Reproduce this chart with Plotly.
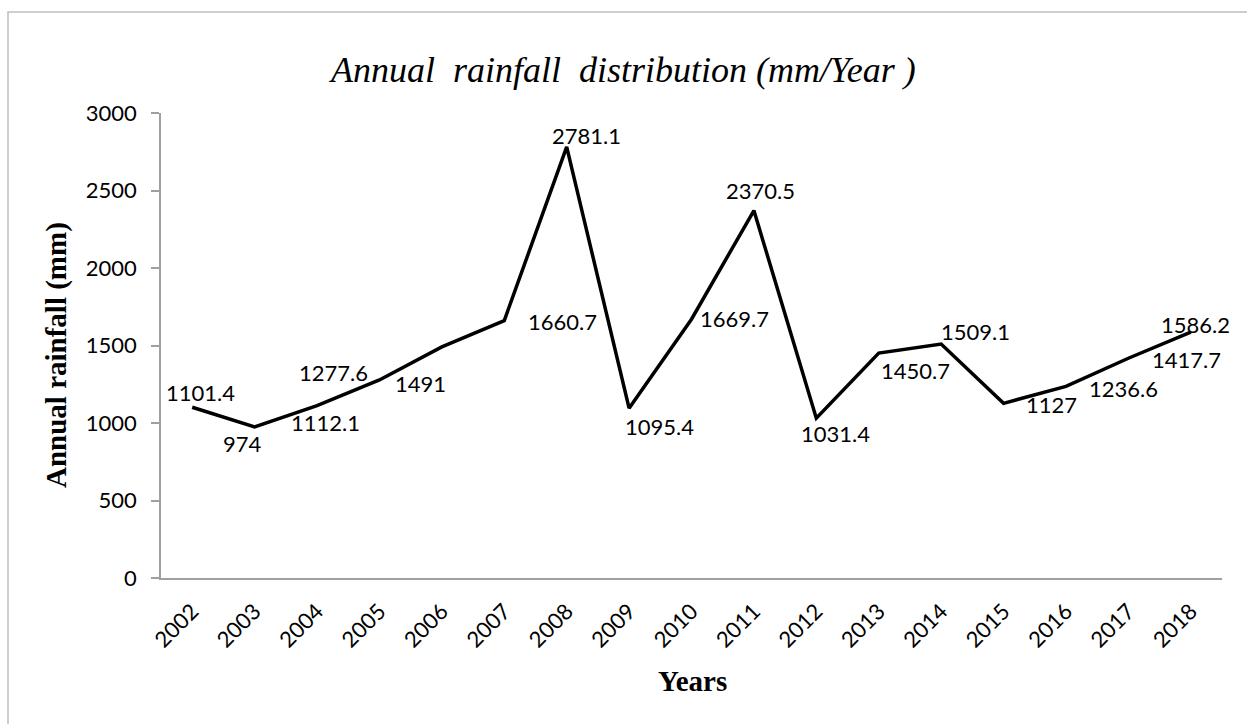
import plotly.graph_objects as go

years = ["2002", "2003", "2004", "2005", "2006", "2007", "2008", "2009", "2010",
         "2011", "2012", "2013", "2014", "2015", "2016", "2017", "2018"]
rainfall = [1101.4, 974, 1112.1, 1277.6, 1491, 1660.7, 2781.1, 1095.4, 1669.7,
            2370.5, 1031.4, 1450.7, 1509.1, 1127, 1236.6, 1417.7, 1586.2]
label_text = ["1101.4", "974", "1112.1", "1277.6", "1491", "1660.7", "2781.1", "1095.4",
              "1669.7", "2370.5", "1031.4", "1450.7", "1509.1", "1127", "1236.6",
              "1417.7", "1586.2"]
# label offsets in pixels (dx right, dy down) relative to the point
label_dx = [8, -12, 8, -46, -21, 58, 20, 30, 43, 7, 19, 37, 34, 48, 58, 58, 5]
label_dy = [-15, 16, 17, -7, 37, 1, -11, 18, -1, -20, 15, 17, -13, 1, 2, 1, -8]

W, H = 1247, 724
L, R, T, B = 161, 25, 113, 146
pw, ph = W - L - R, H - T - B

def px(x):
    return (x - L) / pw

def py(y):
    return (H - B - y) / ph

tick_font = dict(family="Lato, 'Open Sans', sans-serif", size=22, color="#000000")

fig = go.Figure()
fig.add_trace(go.Scatter(
    x=years, y=rainfall, mode="lines",
    line=dict(color="#000000", width=3.5),
    hoverinfo="skip", showlegend=False,
))

annotations = []
for i, (v, t, dx, dy) in enumerate(zip(rainfall, label_text, label_dx, label_dy)):
    annotations.append(dict(
        x=i, y=v, xref="x", yref="y", text=t, showarrow=False,
        xanchor="center", yanchor="middle", xshift=dx, yshift=-dy,
        font=tick_font,
    ))

nb = "\u00a0"
annotations.append(dict(
    x=px(622), y=py(70), xref="paper", yref="paper",
    text=f"Annual{nb}{nb}rainfall{nb}{nb}distribution{nb}(mm/Year{nb})",
    showarrow=False, xanchor="center", yanchor="middle",
    font=dict(family="'Liberation Serif', 'Times New Roman', serif", size=36,
              color="#000000", style="italic"),
))
annotations.append(dict(
    x=px(56), y=py(355), xref="paper", yref="paper",
    text="<b>Annual rainfall (mm)</b>", textangle=-90,
    showarrow=False, xanchor="center", yanchor="middle",
    font=dict(family="'Liberation Serif', 'Times New Roman', serif", size=29, color="#000000"),
))
annotations.append(dict(
    x=px(692), y=py(681), xref="paper", yref="paper",
    text="<b>Years</b>",
    showarrow=False, xanchor="center", yanchor="middle",
    font=dict(family="'Liberation Serif', 'Times New Roman', serif", size=29, color="#000000"),
))

fig.update_layout(
    width=W, height=H,
    margin=dict(l=L, r=R, t=T, b=B, pad=0),
    paper_bgcolor="#ffffff", plot_bgcolor="#ffffff",
    annotations=annotations,
    shapes=[dict(type="rect", xref="paper", yref="paper",
                 x0=px(8), x1=px(1300), y0=py(760), y1=py(12),
                 line=dict(color="#bfbfbf", width=1.5), fillcolor="rgba(0,0,0,0)", layer="below")],
    xaxis=dict(
        type="category", range=[-0.5, 16.5],
        showline=True, linecolor="#a0a0a0", linewidth=1.5,
        showgrid=False, zeroline=False, ticks="",
        tickangle=-45, tickfont=tick_font, ticklabelstandoff=10,
    ),
    yaxis=dict(
        range=[0, 3000], tickvals=[0, 500, 1000, 1500, 2000, 2500, 3000],
        showline=True, linecolor="#a0a0a0", linewidth=1.5,
        showgrid=False, zeroline=False,
        ticks="outside", ticklen=8, tickcolor="#a0a0a0", tickwidth=1.5,
        ticklabelstandoff=10,
        tickfont=tick_font,
    ),
)

fig.write_html("out.html")
